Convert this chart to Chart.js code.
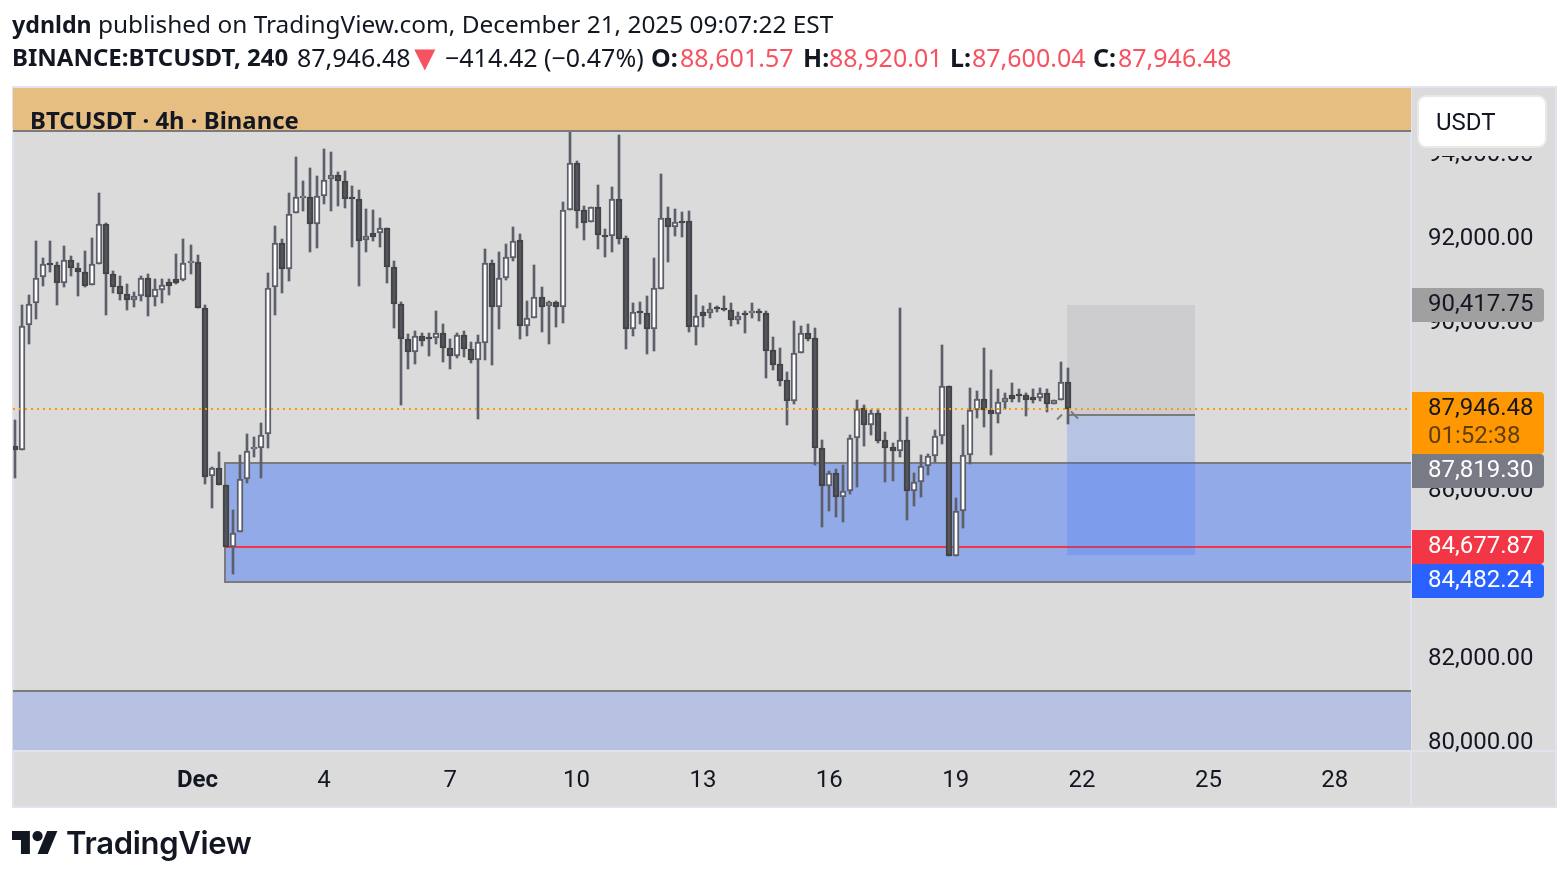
<!DOCTYPE html>
<html>
<head>
<meta charset="utf-8">
<title>BTCUSDT 4h</title>
<script src="https://cdn.jsdelivr.net/npm/chart.js@4/dist/chart.umd.min.js"></script>
<style>
    html, body { margin: 0; padding: 0; background: #fff; width: 1568px; height: 880px; overflow: hidden; }
    canvas { position: absolute; left: 0; top: 0; }
    .t { position: absolute; font-family: "Noto Sans", sans-serif; font-size: 25px; line-height: 34px; color: #131722; white-space: nowrap; }
    .b { font-weight: 700; }
    .r { color: #f7525f; }
    #logoWord { font-family: Inter, sans-serif; font-weight: 600; font-size: 31px; letter-spacing: -0.3px; }
    #logo { position: absolute; left: 12px; top: 831px; }
</style>
</head>
<body>
<canvas id="btcChart" width="1568" height="880"></canvas>

<div class="t" style="left:12px;top:7px;font-size:24.4px"><span class="b" style="font-size:23.2px">ydnldn</span> published on TradingView.com, December 21, 2025 09:07:22 EST</div>
<div class="t b" style="left:12px;top:40px;font-size:24px">BINANCE:BTCUSDT, 240</div>
<div class="t" style="left:297px;top:40px">87,946.48</div>
<div class="t r" style="left:407px;top:40px;font-size:36px">▼</div>
<div class="t" style="left:445px;top:40px">−414.42 (−0.47%)</div>
<div class="t b" style="left:651px;top:40px">O:</div><div class="t r" style="left:680px;top:40px">88,601.57</div>
<div class="t b" style="left:803px;top:40px">H:</div><div class="t r" style="left:829px;top:40px">88,920.01</div>
<div class="t b" style="left:950px;top:40px">L:</div><div class="t r" style="left:972px;top:40px">87,600.04</div>
<div class="t b" style="left:1093px;top:40px">C:</div><div class="t r" style="left:1118px;top:40px">87,946.48</div>
<div class="t b" style="left:30px;top:103px;font-size:23.9px">BTCUSDT · 4h · Binance</div>

<svg id="logo" width="46" height="23" viewBox="0 4 36 18" preserveAspectRatio="none">
    <path fill="#131722" d="M14 22H7V11H0V4h14v18zM28 22h-8l7.5-18h8L28 22z"/><circle fill="#131722" cx="20" cy="8" r="4"/>
</svg>
<div class="t" id="logoWord" style="left:66px;top:826px">TradingView</div>

<script>
// --- 1. DATA (4h candles) ---
const opens = [
    87070,86980,89950,90470,91090,91430,91370,90950,91510,91320,
    91210,90900,91410,92350,91160,90870,90680,90550,90650,91060,
    90630,90790,90980,91050,91020,91440,91450,90350,86350,86540,
    86140,84660,85020,86280,87000,87020,87350,90850,91900,91280,
    92610,92990,92990,92360,93020,93420,93530,93390,93000,92950,
    91970,92140,92140,92250,91340,90450,89610,89320,89680,89670,
    89640,89750,89400,89220,89710,89370,89130,89530,91420,90390,
    91060,91550,91970,89940,90110,90630,90400,90490,90370,92700,
    93800,92680,92400,92770,92100,92060,92950,92020,89860,90290,
    90230,89860,90820,92510,92280,92440,92420,89910,90250,90240,
    90380,90350,90320,90080,90240,90240,90290,90230,89350,89020,
    88640,88150,89280,89750,89640,87020,86130,86420,85860,86010,
    87260,87970,87580,87850,87210,87050,86960,87220,86010,86220,
    86600,86830,87300,88510,84460,85520,86860,87940,88180,87940,
    87840,88130,88280,88310,88280,88230,88220,88340,88060,88160,
    88601.57
];
const highs = [
    87690,90430,90670,91950,91550,91950,91450,91830,91600,91420,
    91710,92020,93090,92370,91240,91120,90930,90730,91120,91160,
    91050,91050,91050,91640,92000,91860,91620,90430,86560,86930,
    86140,85550,86860,87360,87290,87610,91190,92310,92000,93090,
    93950,93380,93690,93500,94140,94070,93600,93620,93260,93170,
    92710,92690,92500,92250,91480,90500,89740,89810,89760,89760,
    90290,89980,89620,89760,89810,89550,89710,91760,91500,91690,
    91880,92290,92120,90520,91380,90860,90520,90520,92880,94600,
    93860,92790,92770,93290,92240,93240,94480,92070,90480,90500,
    90640,91550,93550,92760,92710,92640,92670,90670,90400,90480,
    90400,90640,90480,90260,90290,90480,90330,90290,89670,89410,
    88830,90050,89930,89980,89880,87210,86480,86520,86620,87330,
    88170,88050,87930,87950,87400,87140,90360,87760,86430,86860,
    86880,87450,89480,88510,85830,87570,88450,88380,89410,88880,
    88430,88330,88570,88430,88330,88430,88450,88430,88170,89070,
    88920.01
];
const lows = [
    86310,86980,89510,90100,90890,91220,90430,90860,91130,90640,
    90860,90900,91400,90190,90720,90550,90310,90380,90520,90170,
    90400,90480,90670,90930,91000,91170,90350,86170,85600,86140,
    84660,84030,85020,86200,86810,86300,87030,90190,90720,91000,
    92610,92670,91690,91790,92830,92670,92790,92740,91810,90880,
    91690,91950,91810,90950,89880,88050,88900,89020,89450,89210,
    89500,89070,88900,89170,89190,89050,87710,89120,89000,89860,
    91020,91480,89620,89690,90110,89790,89500,89900,90000,92700,
    92260,91980,92400,91760,91570,91690,91880,89380,89690,89980,
    89260,89330,90820,91450,92070,92050,89790,89480,89900,90120,
    90260,90290,89930,89980,89760,90120,90050,88690,88880,88500,
    87570,88070,89280,89580,86620,85140,85520,85380,85260,85930,
    86100,87070,87330,87140,86210,86240,86810,85310,85640,85860,
    86380,86690,87120,84460,84460,85120,86640,87740,87520,86860,
    87620,87950,88120,88120,87790,88100,88140,87880,88060,88160,
    87600.04
];
const closes = [
    86980,89940,90460,91080,91400,91390,90950,91510,91320,91210,
    90880,91410,92350,91160,90860,90680,90550,90650,91060,90630,
    90800,90900,90880,90950,91420,91480,90350,86340,86540,86140,
    84660,85010,86280,86960,87050,87340,90840,91900,91280,92600,
    92990,93020,92360,93020,93410,93530,93390,92950,92960,91960,
    92060,92050,92250,91340,90450,89610,89320,89680,89580,89630,
    89750,89400,89220,89710,89370,89130,89540,91420,90390,91060,
    91560,91960,89940,90110,90630,90390,90490,90370,92700,93800,
    92670,92390,92770,92100,92070,92950,92010,89860,90250,90240,
    89860,90830,92510,92280,92410,92410,89910,90170,90170,90340,
    90350,90320,90070,90170,90180,90290,90240,89340,89000,88630,
    88140,89280,89750,89630,87020,86130,86420,85860,86010,87260,
    87950,87580,87850,87200,87030,86960,87220,86010,86220,86600,
    86830,87300,88510,84460,85520,86860,87940,88180,87940,87840,
    88130,88210,88190,88260,88170,88170,88340,88060,88170,88590,
    87946.48
];

const priceTicks = [80000, 82000, 84000, 86000, 88000, 90000, 92000, 94000];
const dateTickBars = [26, 44, 62, 80, 98, 116, 134, 152, 170, 188];
const dateTickLabels = ['Dec', '4', '7', '10', '13', '16', '19', '22', '25', '28'];

// drawn zones, in price / bar index
const stripLine = 94570;
const lowerZoneTop = 81240;
const demandTop = 86670, demandBottom = 83830, demandStart = 30;
const redLine = 84677.87;
const lastPrice = 87946.48;
const longStart = 150, longEnd = 168.1;
const longTarget = 90417.75, longEntry = 87819.30, longStop = 84482.24;

// --- 2. COLOURS ---
const WICK = '#5d606b', UP_FILL = '#ffffff', DOWN_FILL = '#53555f', DOWN_EDGE = '#434343';
const LINE_GREY = '#7b7b7b', FRAME = '#e0e3eb', PANEL = '#dbdbdb';
const FONT = 'Roboto, sans-serif';

const barIndex = opens.map((_, i) => i);
const wickData = barIndex.map(i => ({ x: i, y: [lows[i], highs[i]] }));
const bodyData = barIndex.map(i => ({ x: i, y: [opens[i], closes[i]] }));
const isUp = i => closes[i] >= opens[i];

function rectBetween(ctx, x0, x1, y0, y1, color) {
    const l = Math.round(x0), t = Math.round(y0);
    ctx.fillStyle = color;
    ctx.fillRect(l, t, Math.round(x1) - l, Math.round(y1) - t);
}

// --- 3. PLUGINS ---
const backdrop = {
    id: 'backdrop',
    beforeDraw(chart) {
        const ctx = chart.ctx;
        rectBetween(ctx, 12, 1557, 86, 808, FRAME);
        rectBetween(ctx, 14, 1555, 88, 806, PANEL);
        rectBetween(ctx, 1410, 1412, 88, 806, FRAME);
        rectBetween(ctx, 14, 1555, 750, 752, FRAME);
    },
    // keep candles on whole pixels so wicks and bodies stay crisp
    afterDatasetsUpdate(chart) {
        chart.data.datasets.forEach((_, n) => {
            chart.getDatasetMeta(n).data.forEach(el => {
                el.x = Math.round(el.x);
                el.y = Math.round(el.y);
                el.base = Math.round(el.base);
                if (Math.abs(el.base - el.y) < 2) el.base = el.y + 2;
            });
        });
    },
    beforeDatasetsDraw(chart) {
        const { ctx, chartArea: a, scales: { x, y } } = chart;
        ctx.save();
        ctx.beginPath();
        ctx.rect(a.left, a.top, a.right - a.left, a.bottom - a.top);
        ctx.clip();

        // lower zone
        const lz = y.getPixelForValue(lowerZoneTop);
        rectBetween(ctx, a.left, a.right, lz, a.bottom, '#b7c2e2');
        rectBetween(ctx, a.left, a.right, lz - 1, lz + 1, LINE_GREY);

        // demand zone
        const dx = Math.round(x.getPixelForValue(demandStart)) - 1;
        const dt = Math.round(y.getPixelForValue(demandTop)), db = Math.round(y.getPixelForValue(demandBottom));
        rectBetween(ctx, dx, a.right, dt, db, '#93aae8');
        ctx.strokeStyle = LINE_GREY;
        ctx.lineWidth = 2;
        ctx.beginPath();
        ctx.moveTo(a.right + 2, dt); ctx.lineTo(dx, dt); ctx.lineTo(dx, db); ctx.lineTo(a.right + 2, db);
        ctx.stroke();

        // red level
        const ry = y.getPixelForValue(redLine);
        rectBetween(ctx, dx, a.right, ry - 1, ry + 1, '#f23645');

        // long position box
        const lx0 = x.getPixelForValue(longStart) - 1, lx1 = x.getPixelForValue(longEnd);
        const ly = y.getPixelForValue(longEntry);
        rectBetween(ctx, lx0, lx1, y.getPixelForValue(longTarget), ly, 'rgba(120,123,134,0.14)');
        rectBetween(ctx, lx0, lx1, ly, y.getPixelForValue(longStop), 'rgba(41,98,255,0.2)');
        rectBetween(ctx, lx0, lx1, ly - 1, ly + 1, LINE_GREY);
        ctx.restore();
    },
    afterDatasetsDraw(chart) {
        const { ctx, chartArea: a, scales: { x, y } } = chart;
        // orange last price line goes over the candles
        const py = Math.round(y.getPixelForValue(lastPrice));
        ctx.save();
        ctx.strokeStyle = '#ff9800';
        ctx.lineWidth = 2;
        ctx.setLineDash([2, 4]);
        ctx.beginPath();
        ctx.moveTo(a.left, py);
        ctx.lineTo(a.right, py);
        ctx.stroke();
        ctx.setLineDash([]);

        // little cross marks around the entry
        const ex = x.getPixelForValue(longStart), ey = y.getPixelForValue(longEntry);
        ctx.strokeStyle = '#7b7b7b';
        ctx.beginPath();
        ctx.moveTo(ex - 11, ey + 5); ctx.lineTo(ex - 6, ey);
        ctx.moveTo(ex + 3, ey - 3); ctx.lineTo(ex + 10, ey + 4);
        ctx.stroke();
        ctx.restore();

        // top strip covers the candles
        const sy = y.getPixelForValue(stripLine);
        rectBetween(ctx, a.left, a.right, a.top, sy, '#e6be82');
        rectBetween(ctx, a.left, a.right, sy - 1, sy + 1, LINE_GREY);
    },
    afterDraw(chart) {
        const ctx = chart.ctx;
        // price tags on the right axis
        const tags = [
            { top: 288, h: 34, bg: '#a0a0a0', fg: ['#131722'], lines: ['90,417.75'] },
            { top: 392, h: 62, bg: '#ff9800', fg: ['#131722', '#5c3f0c'], lines: ['87,946.48', '01:52:38'] },
            { top: 454, h: 34, bg: '#787b86', fg: ['#ffffff'], lines: ['87,819.30'] },
            { top: 530, h: 34, bg: '#f23645', fg: ['#ffffff'], lines: ['84,677.87'] },
            { top: 564, h: 34, bg: '#2962ff', fg: ['#ffffff'], lines: ['84,482.24'] }
        ];
        ctx.save();
        // panel behind the currency box also hides the top of the 94,000 label
        rectBetween(ctx, 1412, 1555, 140, 156, PANEL);
        tags.forEach(t => {
            ctx.fillStyle = t.bg;
            ctx.beginPath();
            ctx.roundRect(1412, t.top, 132, t.h, [0, 4, 4, 0]);
            ctx.fill();
            ctx.font = '24px ' + FONT;
            ctx.textBaseline = 'middle';
            t.lines.forEach((line, n) => {
                ctx.fillStyle = t.fg[n];
                ctx.fillText(line, 1428, t.top + 17 + n * 28);
            });
        });

        // USDT box
        ctx.fillStyle = '#ffffff';
        ctx.strokeStyle = '#e9e9ea';
        ctx.lineWidth = 2;
        ctx.beginPath();
        ctx.roundRect(1418, 96, 128, 51, 8);
        ctx.fill();
        ctx.stroke();
        ctx.fillStyle = '#131722';
        ctx.fillText('USDT', 1436, 124);
        ctx.restore();
    }
};

// --- 4. CHART ---
new Chart(document.getElementById('btcChart').getContext('2d'), {
    type: 'bar',
    data: {
        datasets: [
            {
                label: 'wick',
                data: wickData,
                backgroundColor: WICK,
                barThickness: 2,
                grouped: false,
                order: 2
            },
            {
                label: 'body',
                data: bodyData,
                backgroundColor: barIndex.map(i => isUp(i) ? UP_FILL : DOWN_FILL),
                borderColor: barIndex.map(i => isUp(i) ? WICK : DOWN_EDGE),
                borderWidth: 2,
                borderSkipped: false,
                barThickness: 6,
                grouped: false,
                order: 1
            }
        ]
    },
    options: {
        responsive: false,
        animation: false,
        events: [],
        layout: { padding: { left: 13, right: 12, top: 88, bottom: 73 } },
        plugins: { legend: { display: false }, tooltip: { enabled: false } },
        scales: {
            x: {
                type: 'linear',
                offset: false,
                min: -0.285,
                max: 198.86,
                grid: { display: false, offset: false },
                border: { display: false },
                afterFit(s) { s.height = 57; },
                afterBuildTicks(s) { s.ticks = dateTickBars.map(v => ({ value: v })); },
                ticks: {
                    autoSkip: false,
                    maxRotation: 0,
                    padding: 9,
                    color: '#131722',
                    font: c => ({ family: 'Roboto', size: 24, weight: c.index === 0 ? 'bold' : 'normal' }),
                    callback: v => dateTickLabels[dateTickBars.indexOf(v)]
                }
            },
            y: {
                position: 'right',
                min: 79833,
                max: 95595,
                grid: { display: false },
                border: { display: false },
                afterFit(s) { s.width = 145; },
                afterBuildTicks(s) { s.ticks = priceTicks.map(v => ({ value: v })); },
                ticks: {
                    autoSkip: false,
                    padding: 9,
                    labelOffset: 0,
                    color: '#131722',
                    font: { family: 'Roboto', size: 24 },
                    callback: v => v.toLocaleString('en-US', { minimumFractionDigits: 2 })
                }
            }
        }
    },
    plugins: [backdrop]
});
</script>
</body>
</html>
